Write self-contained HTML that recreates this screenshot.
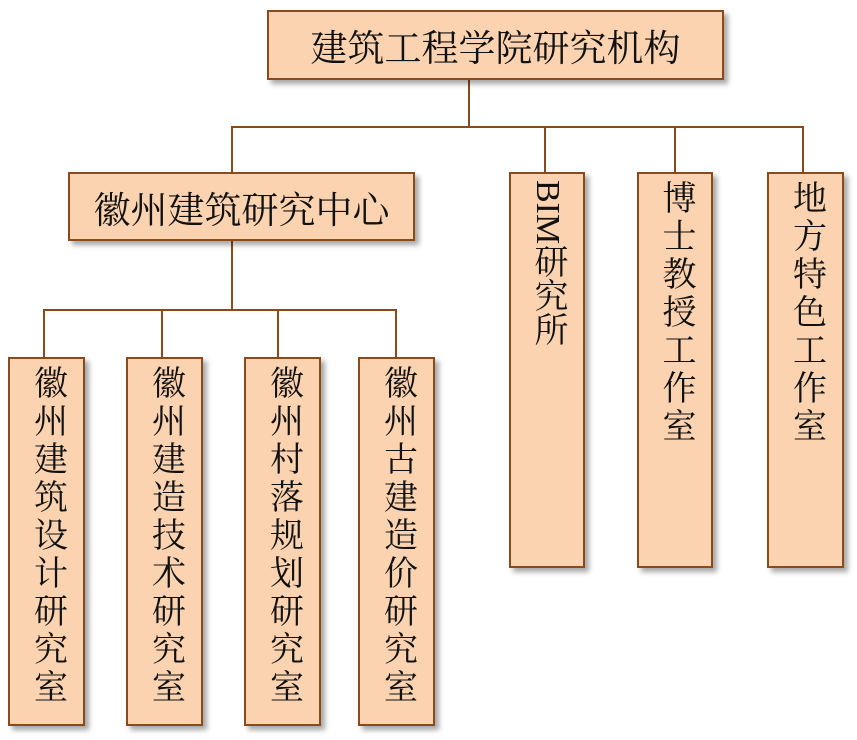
<!DOCTYPE html>
<html><head><meta charset="utf-8"><style>
body{margin:0;width:857px;height:740px;background:#fff;position:relative;overflow:hidden;font-family:"Liberation Serif","Noto Serif CJK SC",serif;color:#111}
.b{position:absolute;box-sizing:border-box;background:#fbd3b0;border:2px solid #8b4a1c;box-shadow:4px 4px 5px rgba(0,0,0,.35)}
.h{display:flex;align-items:center;justify-content:center;font-size:37px}
.v{font-size:34px;padding-top:6px;text-align:center}
.v span{display:block;margin:0 auto;width:36px;writing-mode:vertical-rl;text-orientation:upright;letter-spacing:4px;line-height:36px}
.v span.m{text-orientation:mixed}
.l{position:absolute;background:#8b4a1c}
</style></head><body>
<div class="l" style="left:468px;top:79px;width:2px;height:49px"></div>
<div class="l" style="left:231px;top:126px;width:573px;height:2px"></div>
<div class="l" style="left:231px;top:126px;width:2px;height:47px"></div>
<div class="l" style="left:544px;top:126px;width:2px;height:47px"></div>
<div class="l" style="left:674px;top:126px;width:2px;height:47px"></div>
<div class="l" style="left:802px;top:126px;width:2px;height:47px"></div>
<div class="l" style="left:231px;top:240px;width:2px;height:70px"></div>
<div class="l" style="left:43px;top:309px;width:354px;height:2px"></div>
<div class="l" style="left:43px;top:309px;width:2px;height:49px"></div>
<div class="l" style="left:161px;top:309px;width:2px;height:49px"></div>
<div class="l" style="left:277px;top:309px;width:2px;height:49px"></div>
<div class="l" style="left:395px;top:309px;width:2px;height:49px"></div>

<div class="b h" style="left:267px;top:10px;width:457px;height:70px">建筑工程学院研究机构</div>
<div class="b h" style="left:68px;top:172px;width:347px;height:69px">徽州建筑研究中心</div>

<div class="b v" style="left:509px;top:172px;width:76px;height:396px"><span class="m" style="letter-spacing:0">BIM研究所</span></div>
<div class="b v" style="left:637px;top:172px;width:76px;height:396px"><span>博士教授工作室</span></div>
<div class="b v" style="left:767px;top:172px;width:77px;height:396px"><span>地方特色工作室</span></div>

<div class="b v" style="left:8px;top:357px;width:77px;height:369px"><span>徽州建筑设计研究室</span></div>
<div class="b v" style="left:126px;top:357px;width:77px;height:369px"><span>徽州建造技术研究室</span></div>
<div class="b v" style="left:244px;top:357px;width:77px;height:369px"><span>徽州村落规划研究室</span></div>
<div class="b v" style="left:358px;top:357px;width:77px;height:369px"><span>徽州古建造价研究室</span></div>
</body></html>
